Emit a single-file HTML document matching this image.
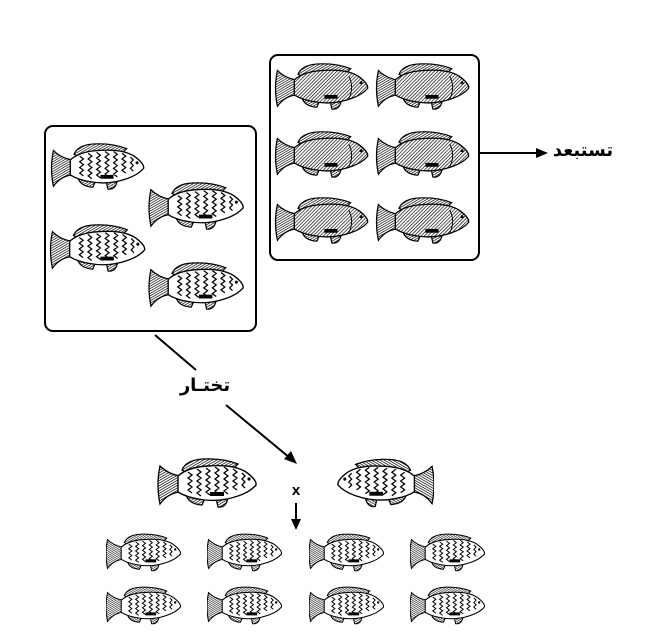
<!DOCTYPE html>
<html><head><meta charset="utf-8"><style>
html,body{margin:0;padding:0;background:#fff;}
svg{display:block}
</style></head><body>
<svg width="657" height="640" viewBox="0 0 657 640" xmlns="http://www.w3.org/2000/svg">
<defs>
<pattern id="h" width="2.6" height="2.6" patternUnits="userSpaceOnUse" patternTransform="rotate(45)">
<rect width="3" height="3" fill="#fff"/><line x1="0" y1="0" x2="0" y2="3" stroke="#000" stroke-width="1.4"/>
</pattern>
<pattern id="d" width="2.2" height="2.2" patternUnits="userSpaceOnUse" patternTransform="rotate(60)">
<rect width="3" height="3" fill="#fff"/><line x1="0" y1="0" x2="0" y2="3" stroke="#000" stroke-width="1.4"/>
</pattern>
<g id="fins">
<path d="M2,8 Q10,16 22,18 L22,34 Q10,35 2,46 Q-2,27 2,8Z" fill="url(#d)" stroke="#000" stroke-width="1.3"/>
<path d="M24,12 Q28,2 45,1 Q65,0 80,6 L74,12 L30,15Z" fill="url(#d)" stroke="#000" stroke-width="1.3"/>
<path d="M28,36 Q30,46 44,47 L48,38Z" fill="url(#d)" stroke="#000" stroke-width="1.3"/>
<path d="M58,40 L60,49 Q68,50 70,40Z" fill="url(#d)" stroke="#000" stroke-width="1.3"/>
</g>
<path id="body" d="M20,18 Q30,9 50,8 Q75,6 88,14 Q99,22 98,27 Q92,34 80,38 Q60,45 40,41 Q28,39 20,34Z"/>
<symbol id="fz" viewBox="0 0 100 50">
<use href="#fins"/>
<use href="#body" fill="#fff" stroke="#000" stroke-width="1.4"/>
<path d="M30,14 l4,3 -4,3 4,3 -4,3 4,3 -4,3 4,3 M39,11 l4,3 -4,3 4,3 -4,3 4,3 -4,3 4,3 -4,3 4,3 M48,10 l4,3 -4,3 4,3 -4,3 4,3 -4,3 4,3 -4,3 4,3 M57,9 l4,3 -4,3 4,3 -4,3 4,3 -4,3 4,3 -4,3 4,3 M66,9 l4,3 -4,3 4,3 -4,3 4,3 -4,3 4,3 -4,3 4,3 M75,11 l4,3 -4,3 4,3 -4,3 4,3 -4,3 4,3 M84,15 l3,3 -3,3 3,3 -3,3 3,3" fill="none" stroke="#000" stroke-width="1.3"/>
<rect x="52" y="34" width="14" height="4" fill="#000"/>
<circle cx="91" cy="21" r="1.6" fill="#000"/>
</symbol>
<symbol id="fh" viewBox="0 0 100 50">
<use href="#fins"/>
<use href="#body" fill="url(#h)" stroke="#000" stroke-width="1.4"/>
<path d="M78,14 Q84,26 78,38" fill="none" stroke="#000"/>
<rect x="52" y="34" width="14" height="4" fill="#000"/>
<circle cx="91" cy="21" r="1.6" fill="#000"/>
</symbol>
</defs>

<rect x="45" y="126" width="211" height="205" rx="8" fill="none" stroke="#000" stroke-width="2"/>
<use href="#fz" x="50" y="143" width="97" height="47"/>
<use href="#fz" x="147" y="182" width="100" height="48"/>
<use href="#fz" x="50" y="224" width="97" height="48"/>
<use href="#fz" x="147" y="262" width="100" height="48"/>

<rect x="270" y="55" width="209" height="205" rx="8" fill="none" stroke="#000" stroke-width="2"/>
<use href="#fh" x="274" y="63" width="97" height="47"/>
<use href="#fh" x="375" y="63" width="97" height="47"/>
<use href="#fh" x="274" y="131" width="97" height="47"/>
<use href="#fh" x="375" y="131" width="97" height="47"/>
<use href="#fh" x="274" y="197" width="97" height="47"/>
<use href="#fh" x="375" y="197" width="97" height="47"/>

<line x1="479" y1="153" x2="538" y2="153" stroke="#000" stroke-width="2"/>
<path d="M548,153 L536,148 L536,158Z" fill="#000"/>
<text x="583" y="156" font-family="'Liberation Sans','DejaVu Sans',sans-serif" font-size="18" font-weight="bold" text-anchor="middle">تستبعد</text>

<line x1="155" y1="335" x2="196" y2="370" stroke="#000" stroke-width="2"/>
<text x="205" y="391" font-family="'Liberation Sans','DejaVu Sans',sans-serif" font-size="18" font-weight="bold" text-anchor="middle">تختـار</text>
<line x1="226" y1="405" x2="290" y2="458" stroke="#000" stroke-width="2"/>
<path d="M297,464 L284,459 L291,451Z" fill="#000"/>

<use href="#fz" x="156" y="458" width="104" height="50"/>
<g transform="translate(434,458) scale(-1,1)"><use href="#fz" x="0" y="0" width="98" height="50"/></g>
<text x="296" y="495" font-family="'Liberation Sans',sans-serif" font-size="15" font-weight="bold" text-anchor="middle">x</text>
<line x1="296" y1="503" x2="296" y2="522" stroke="#000" stroke-width="2"/>
<path d="M296,530 L291,519 L301,519Z" fill="#000"/>

<use href="#fz" x="106" y="533" width="76" height="39"/>
<use href="#fz" x="207" y="533" width="76" height="39"/>
<use href="#fz" x="309" y="533" width="76" height="39"/>
<use href="#fz" x="410" y="533" width="76" height="39"/>
<use href="#fz" x="106" y="586" width="76" height="39"/>
<use href="#fz" x="207" y="586" width="76" height="39"/>
<use href="#fz" x="309" y="586" width="76" height="39"/>
<use href="#fz" x="410" y="586" width="76" height="39"/>
</svg>
</body></html>
